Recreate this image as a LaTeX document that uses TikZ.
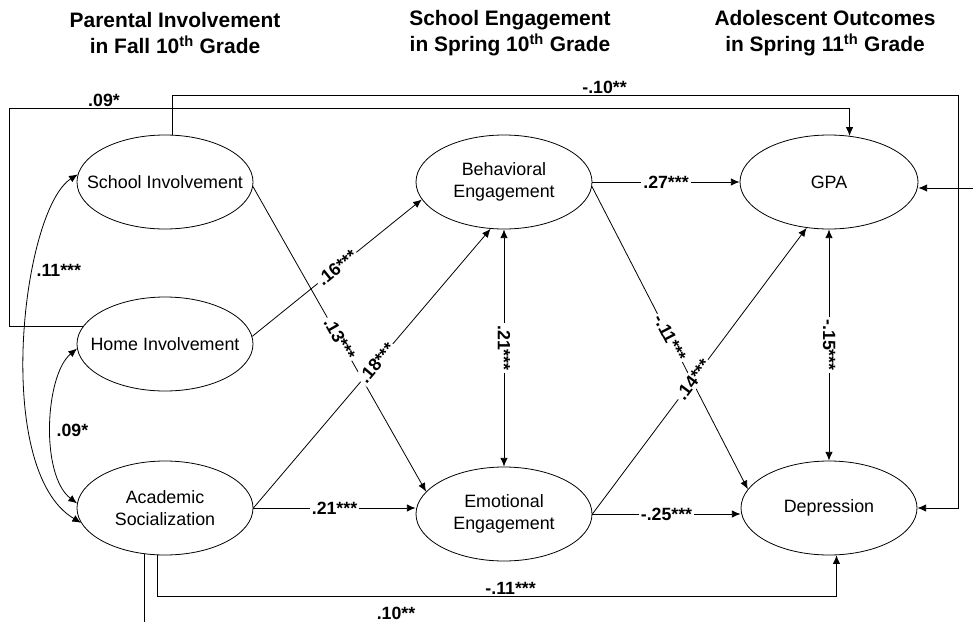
\documentclass[tikz,border=0pt]{standalone}
\usepackage{fontspec}
\setmainfont{Liberation Sans}
\usetikzlibrary{shapes.geometric,arrows.meta,positioning}

\tikzset{
	latent/.style={draw, ellipse, line width=0.6pt, minimum width=132pt, minimum height=70.5pt,
		inner xsep=-30pt, inner ysep=0pt, align=center, font=\fontsize{13.4}{16.3}\selectfont},
	link/.style={line width=0.6pt, -{Latex[length=6.5pt,width=5.5pt]}},
	twoway/.style={line width=0.6pt, {Latex[length=6.5pt,width=5.5pt]}-{Latex[length=6.5pt,width=5.5pt]}},
	coef/.style={font=\bfseries\fontsize{13.3}{15}\selectfont, fill=white, inner sep=1.5pt},
	coeftxt/.style={font=\bfseries\fontsize{13.3}{15}\selectfont, inner sep=1pt},
	heading/.style={font=\bfseries\fontsize{15.7}{20}\selectfont, align=center}
}

\begin{document}
\begin{tikzpicture}[x=0.75pt,y=-0.75pt]
	\useasboundingbox (0,0) rectangle (973,621);
	% column headings
	\node[heading] (h1) at (175,33) {Parental Involvement\\in Fall 10\textsuperscript{th} Grade};
	\node[heading] (h2) at (510,33) {School Engagement\\in Spring 10\textsuperscript{th} Grade};
	\node[heading] (h3) at (825,33) {Adolescent Outcomes\\in Spring 11\textsuperscript{th} Grade};
	% latent variables
	\node[latent] (school) at (165,182) {School Involvement};
	\node[latent] (home) at (165,344) {Home Involvement};
	\node[latent] (acad) at (165,508) {Academic\\Socialization};
	\node[latent] (behav) at (504,182) {Behavioral\\Engagement};
	\node[latent] (emot) at (504,514) {Emotional\\Engagement};
	\node[latent, minimum width=133.5pt] (gpa) at (829,182) {GPA};
	\node[latent] (depr) at (829,508) {Depression};
	% helper coordinates for the long paths
	\coordinate (lft) at (9,0);
	\coordinate (rgt) at (958,0);
	\coordinate (top1) at (0,95);
	\coordinate (top2) at (0,108);
	\coordinate (low) at (0,596);
	\coordinate (offr) at (990,188);
	\coordinate (offb) at (0,640);
	% covariances
	\draw[twoway] (school.175) .. controls (22,210) and (-8,470) .. (acad.190);
	\node[coeftxt, anchor=west] (r11) at (35,270) {.11***};
	\draw[twoway] (home.183) .. controls (45,375) and (40,475) .. (acad.177);
	\node[coeftxt, anchor=west] (r09) at (55,430) {.09*};
	% long paths
	\draw[link] (home.168) -- (lft |- home.168) -- (lft |- top2) -- node[coeftxt, above, pos=0.113] {.09*} (gpa.66 |- top2) -- (gpa.66);
	\draw[link] (school.81) -- (school.81 |- top1) -- node[coeftxt, above, pos=0.55] {-.10**} (rgt |- top1) -- (rgt |- depr.east) -- (depr.east);
	\draw[link] (acad.261) -- (acad.261 |- low) -| node[coeftxt, above, pos=0.26] {-.11***} (depr.279);
	\draw[link] (offr) -- (offr -| gpa.east);
	\draw[line width=0.6pt] (acad.246) -- (acad.246 |- offb);
	\node[coeftxt] (c10) at (396,613) {.10**};
	% direct paths
	\draw[link] (home.5) -- node[coef, sloped] {.16***} (behav.192);
	\draw[link] (school.357) -- node[coef, sloped] {.13***} (emot.164);
	\draw[link] (acad.east) -- node[coef, sloped, pos=0.52] {.18***} (behav.254);
	\draw[link] (acad.east) -- node[coef] {.21***} (acad.east -| emot.west);
	\draw[twoway] (behav.south) -- node[coef, rotate=-90] {.21***} (emot.north);
	\draw[link] (behav.east) -- node[coef] {.27***} (gpa.west);
	\draw[link] (emot.east) -- node[coef] {-.25***} (emot.east -| depr.west);
	\draw[link] (behav.357) -- node[coef, sloped] {-.11***} (depr.167);
	\draw[link] (emot.east) -- node[coef, sloped, pos=0.47] {.14***} (gpa.244);
	\draw[twoway] (gpa.south) -- node[coef, rotate=-90] {-.15***} (depr.north);
\end{tikzpicture}
\end{document}
